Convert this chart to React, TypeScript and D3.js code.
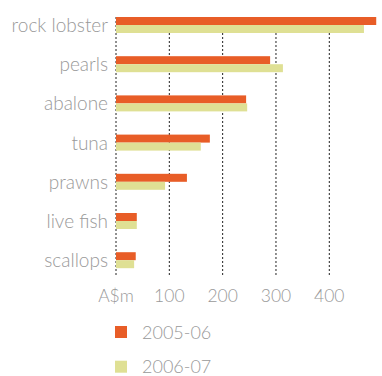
import React from "react";
import * as d3 from "d3";

const categories = ["rock lobster", "pearls", "abalone", "tuna", "prawns", "live fish", "scallops"];
const series2005 = [488, 289, 244, 176, 133, 39, 37];
const series2006 = [465, 313, 246, 159, 92, 39, 34];
const seriesNames = ["2005-06", "2006-07"];
const tickValues = [0, 100, 200, 300, 400];
const tickLabels = ["A$m", "100", "200", "300", "400"];

const COLORS = ["#E85D27", "#DFE094"];
const TEXT = "#999999";
const FONT = "Lato, 'Open Sans', sans-serif";

export default function App() {
  const W = 382, H = 376;
  const x = d3.scaleLinear().domain([0, 400]).range([116, 329.3]);
  const y = d3.scaleBand<string>().domain(categories).range([17, 268.2]).paddingInner(0.592).paddingOuter(0);
  const bh = y.bandwidth() / 2;
  const data = [series2005, series2006];
  return (
    <svg width={W} height={H} style={{ position: "absolute", left: 0, top: 0, background: "#fff" }} fontFamily={FONT}>
      {tickValues.map((t, i) => (
        <line key={"g" + i} x1={x(t)} x2={x(t)} y1={17} y2={277} stroke="#222" strokeWidth={1} strokeDasharray="2,2" />
      ))}
      {categories.map((c, ci) => (
        <g key={c}>
          {data.map((s, si) => (
            <rect key={si} x={x(0)} y={(y(c) as number) + si * bh} width={x(s[ci]) - x(0)} height={bh} fill={COLORS[si]} />
          ))}
          <text x={108} y={(y(c) as number) + bh + 7} textAnchor="end" fontSize={19} fontWeight={300} fill={TEXT}>{c}</text>
        </g>
      ))}
      {tickValues.map((t, i) => (
        <text key={"t" + i} x={x(t)} y={302} textAnchor="middle" fontSize={17.5} fontWeight={300} fill={TEXT}>{tickLabels[i]}</text>
      ))}
      {seriesNames.map((n, i) => (
        <g key={n}>
          <rect x={115} y={326 + i * 34.7} width={12} height={12} fill={COLORS[i]} />
          <text x={142} y={339 + i * 34.2} fontSize={18} fontWeight={300} fill={TEXT}>{n}</text>
        </g>
      ))}
    </svg>
  );
}
